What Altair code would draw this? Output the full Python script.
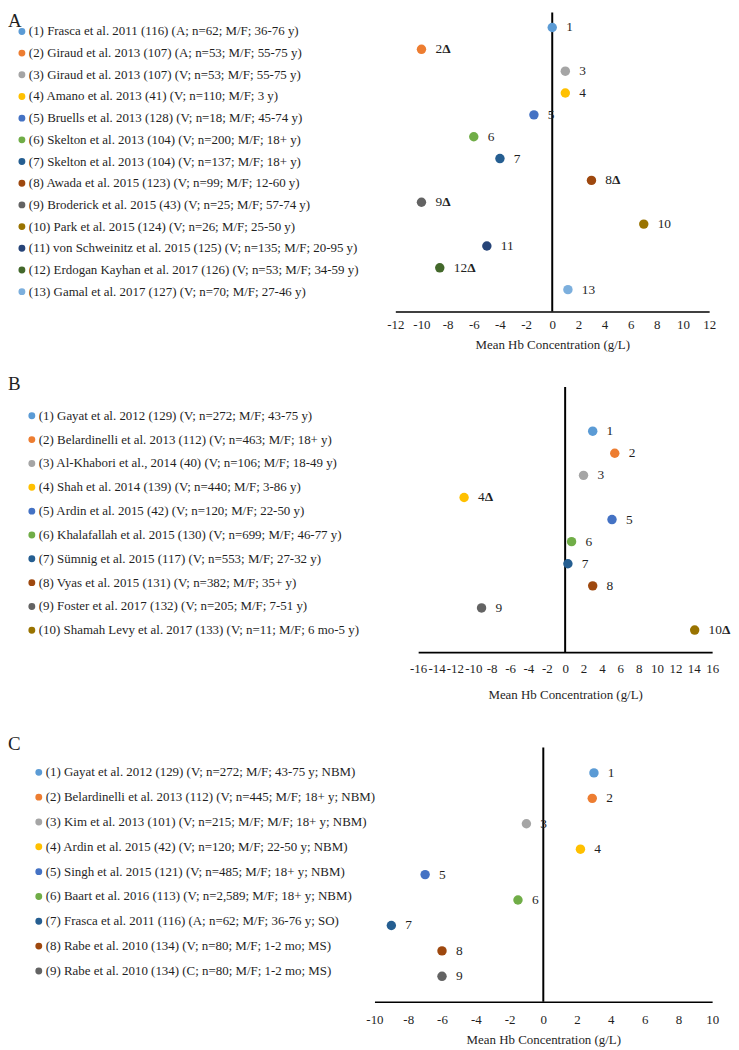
import altair as alt
import pandas as pd

FONT = "Liberation Serif"
TEXT_COLOR = "#1f1f1f"

PALETTE = ["#5B9BD5", "#ED7D31", "#A5A5A5", "#FFC000", "#4472C4", "#70AD47",
           "#255E91", "#9E480E", "#636363", "#997300", "#264478", "#43682B", "#7CAFDD"]

A_STUDIES = [
    "(1) Frasca et al. 2011 (116) (A; n=62; M/F; 36-76 y)",
    "(2) Giraud et al. 2013 (107) (A; n=53; M/F; 55-75 y)",
    "(3) Giraud et al. 2013 (107) (V; n=53; M/F; 55-75 y)",
    "(4) Amano et al. 2013 (41) (V; n=110; M/F; 3 y)",
    "(5) Bruells et al. 2013 (128) (V; n=18; M/F; 45-74 y)",
    "(6) Skelton et al. 2013 (104) (V; n=200; M/F; 18+ y)",
    "(7) Skelton et al. 2013 (104) (V; n=137; M/F; 18+ y)",
    "(8) Awada et al. 2015 (123) (V; n=99; M/F; 12-60 y)",
    "(9) Broderick et al. 2015 (43) (V; n=25; M/F; 57-74 y)",
    "(10) Park et al. 2015 (124) (V; n=26; M/F; 25-50 y)",
    "(11) von Schweinitz et al. 2015 (125) (V; n=135; M/F; 20-95 y)",
    "(12) Erdogan Kayhan et al. 2017 (126) (V; n=53; M/F; 34-59 y)",
    "(13) Gamal et al. 2017 (127) (V; n=70; M/F; 27-46 y)",
]
A_VALUES = [0.0, -10.0, 1.0, 1.0, -1.4, -6.0, -4.0, 3.0, -10.0, 7.0, -5.0, -8.6, 1.2]
A_DELTA = [0, 1, 0, 0, 0, 0, 0, 1, 1, 0, 0, 1, 0]

B_STUDIES = [
    "(1) Gayat et al. 2012 (129) (V; n=272; M/F; 43-75 y)",
    "(2) Belardinelli et al. 2013 (112) (V; n=463; M/F; 18+ y)",
    "(3) Al-Khabori et al., 2014 (40) (V; n=106; M/F; 18-49 y)",
    "(4) Shah et al. 2014 (139) (V; n=440; M/F; 3-86 y)",
    "(5) Ardin et al. 2015 (42) (V; n=120; M/F; 22-50 y)",
    "(6) Khalafallah et al. 2015 (130) (V; n=699; M/F; 46-77 y)",
    "(7) Sümnig et al. 2015 (117) (V; n=553; M/F; 27-32 y)",
    "(8) Vyas et al. 2015 (131) (V; n=382; M/F; 35+ y)",
    "(9) Foster et al. 2017 (132) (V; n=205; M/F; 7-51 y)",
    "(10) Shamah Levy et al. 2017 (133) (V; n=11; M/F; 6 mo-5 y)",
]
B_VALUES = [3.0, 5.4, 2.0, -11.0, 5.1, 0.7, 0.3, 3.0, -9.1, 14.1]
B_DELTA = [0, 0, 0, 1, 0, 0, 0, 0, 0, 1]

C_STUDIES = [
    "(1) Gayat et al. 2012 (129) (V; n=272; M/F; 43-75 y; NBM)",
    "(2) Belardinelli et al. 2013 (112) (V; n=445; M/F; 18+ y; NBM)",
    "(3) Kim et al. 2013 (101) (V; n=215; M/F; M/F; 18+ y; NBM)",
    "(4) Ardin et al. 2015 (42) (V; n=120; M/F; 22-50 y; NBM)",
    "(5) Singh et al. 2015 (121) (V; n=485; M/F; 18+ y; NBM)",
    "(6) Baart et al. 2016 (113) (V; n=2,589; M/F; 18+ y; NBM)",
    "(7) Frasca et al. 2011 (116) (A; n=62; M/F; 36-76 y; SO)",
    "(8) Rabe et al. 2010 (134) (V; n=80; M/F; 1-2 mo; MS)",
    "(9) Rabe et al. 2010 (134) (C; n=80; M/F; 1-2 mo; MS)",
]
C_VALUES = [3.0, 2.9, -1.0, 2.2, -7.0, -1.5, -9.0, -6.0, -6.0]
C_DELTA = [0, 0, 0, 0, 0, 0, 0, 0, 0]

X_TITLE = "Mean Hb Concentration (g/L)"


def panel(letter, studies, values, deltas, xmax, cfg):
    n = len(studies)
    df = pd.DataFrame({
        "k": list(range(1, n + 1)),
        "study": studies,
        "value": values,
        "num": [str(i) for i in range(1, n + 1)],
        "delta": ["Δ" if d else "" for d in deltas],
        "digits": [len(str(i)) for i in range(1, n + 1)],
        "color": PALETTE[:n],
    })
    df["pos"] = n + 1 - df["k"]

    # ---- legend column ----
    ky = alt.Y("k:Q", scale=alt.Scale(domain=[1, n], range=[cfg["row0"], cfg["row1"]],
                                      nice=False, zero=False), axis=None)
    lbase = alt.Chart(df)
    markers = lbase.mark_circle(size=48, opacity=1).encode(
        x=alt.value(cfg["mx"]), y=ky, color=alt.Color("color:N", scale=None))
    texts = lbase.mark_text(align="left", baseline="middle", font=FONT, fontSize=13,
                            color=TEXT_COLOR).encode(
        x=alt.value(cfg["tx"]), y=ky, text="study:N")
    letter_mark = alt.Chart(pd.DataFrame({"t": [letter]})).mark_text(
        align="left", baseline="middle", font=FONT, fontSize=19, color=TEXT_COLOR
    ).encode(x=alt.value(0), y=alt.value(cfg["ly"]), text="t:N")
    legend = alt.layer(markers, texts, letter_mark).properties(width=cfg["lw"], height=cfg["lh"])

    # ---- plot column ----
    xs = alt.Scale(domain=[-xmax, xmax], nice=False, zero=False)
    ys = alt.Scale(domain=[0, cfg["ytop"]], nice=False, zero=False)
    xaxis = alt.Axis(values=list(range(-xmax, xmax + 1, 2)), labelExpr="'' + datum.value",
                     title=X_TITLE, grid=False, ticks=False, tickSize=0,
                     domainColor="black", domainWidth=1.6,
                     labelFont=FONT, labelFontSize=13, labelColor=TEXT_COLOR,
                     labelPadding=cfg["lp"], labelOverlap=False, labelFlush=False,
                     titleFont=FONT, titleFontSize=13, titleFontWeight="normal",
                     titleColor=TEXT_COLOR, titlePadding=cfg["tp"])
    rule_df = pd.DataFrame({"x": [0], "y0": [0], "y1": [cfg["rtop"]]})
    rule = alt.Chart(rule_df).mark_rule(color="black", strokeWidth=2).encode(
        x=alt.X("x:Q", scale=xs, axis=xaxis),
        y=alt.Y("y0:Q", scale=ys, axis=None), y2="y1:Q")
    base = alt.Chart(df).encode(x=alt.X("value:Q", scale=xs, axis=xaxis),
                                y=alt.Y("pos:Q", scale=ys, axis=None))
    points = base.mark_circle(size=90, opacity=1).encode(color=alt.Color("color:N", scale=None))
    labels = base.mark_text(align="left", baseline="middle", dx=14, font=FONT, fontSize=13.5,
                            color=TEXT_COLOR).encode(text="num:N")
    layers = [rule, points, labels]
    for d in (1, 2):
        layers.append(
            base.transform_filter(f"datum.digits == {d} && datum.delta != ''")
            .mark_text(align="left", baseline="middle", dx=14 + 6.8 * d, font=FONT,
                       fontSize=13.5, fontWeight="bold", color=TEXT_COLOR)
            .encode(text="delta:N"))
    plot = alt.layer(*layers).properties(width=cfg["pw"], height=cfg["ph"])
    return alt.hconcat(legend, plot, spacing=0, bounds="flush")


cfgA = dict(lw=390, lh=362, mx=14, tx=21, row0=19, row1=281, ly=9,
            pw=316, ph=301, ytop=301 / 22, rtop=301 / 22, lp=7, tp=7)
cfgB = dict(lw=413, lh=363, mx=24, tx=31, row0=44, row1=260, ly=12,
            pw=296, ph=282, ytop=282 / 22.25, rtop=12, lp=10, tp=14)
cfgC = dict(lw=369, lh=271, mx=31, tx=38, row0=40, row1=240, ly=12,
            pw=340, ph=271, ytop=271 / 25.6, rtop=10, lp=12, tp=7)

rowA = panel("A", A_STUDIES, A_VALUES, A_DELTA, 12, cfgA)
rowB = panel("B", B_STUDIES, B_VALUES, B_DELTA, 16, cfgB)
rowC = panel("C", C_STUDIES, C_VALUES, C_DELTA, 10, cfgC)

chart = alt.vconcat(rowA, rowB, rowC, spacing=0).properties(padding=0).configure_view(stroke=None)

chart.save("out.html", embed_options={"renderer": "svg", "actions": False})
